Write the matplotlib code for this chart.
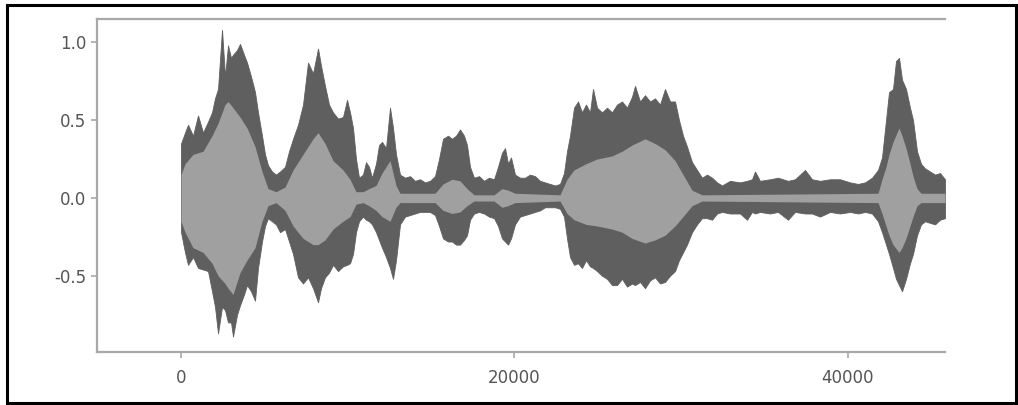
import matplotlib
matplotlib.use("Agg")
import matplotlib.pyplot as plt
from matplotlib.patches import Rectangle

# envelope of the waveform (sample index -> amplitude)
sample_outer = [
    0, 240, 420, 720, 1020, 1320, 1620, 1860, 2040, 2220,
    2460, 2640, 2820, 3000, 3120, 3360, 3540, 3780, 3960, 4200,
    4440, 4620, 4860, 5040, 5220, 5460, 5700, 5940, 6240, 6480,
    6720, 7020, 7320, 7620, 7920, 8220, 8400, 8640, 8880, 9120,
    9420, 9720, 9960, 10140, 10320, 10500, 10680, 10920, 11100, 11280,
    11460, 11700, 11880, 12060, 12300, 12540, 12720, 12900, 13140, 13440,
    13740, 14040, 14340, 14640, 14940, 15240, 15480, 15720, 16020, 16260,
    16500, 16740, 16980, 17160, 17340, 17580, 17880, 18180, 18480, 18780,
    19020, 19260, 19440, 19620, 19800, 20040, 20340, 20640, 20940, 21240,
    21540, 21840, 22140, 22440, 22740, 22980, 23160, 23340, 23580, 23820,
    24060, 24300, 24540, 24720, 24960, 25260, 25560, 25860, 26160, 26460,
    26760, 27060, 27240, 27540, 27840, 28140, 28440, 28740, 29040, 29340,
    29640, 29880, 30120, 30360, 30660, 30960, 31260, 31560, 31860, 32160,
    32460, 32940, 33540, 33960, 34260, 34440, 34740, 35340, 35820, 36420,
    36840, 37440, 37860, 38340, 38940, 39540, 40140, 40620, 41040, 41460,
    41820, 42060, 42300, 42480, 42720, 42900, 43080, 43260, 43500, 43740,
    43920, 44160, 44400, 44640, 44940, 45240, 45540, 45840,
]
outer_top = [
    0.35, 0.42, 0.47, 0.40, 0.53, 0.42, 0.49, 0.55, 0.64, 0.70,
    1.08, 0.78, 0.98, 0.90, 0.92, 0.95, 0.99, 0.92, 0.87, 0.78,
    0.68, 0.55, 0.40, 0.28, 0.21, 0.17, 0.15, 0.17, 0.20, 0.30,
    0.38, 0.47, 0.60, 0.87, 0.80, 0.96, 0.85, 0.72, 0.60, 0.55,
    0.51, 0.52, 0.63, 0.55, 0.45, 0.25, 0.13, 0.15, 0.23, 0.20,
    0.13, 0.22, 0.34, 0.36, 0.32, 0.58, 0.45, 0.28, 0.15, 0.13,
    0.14, 0.11, 0.12, 0.10, 0.11, 0.14, 0.25, 0.38, 0.40, 0.38,
    0.40, 0.44, 0.40, 0.34, 0.20, 0.13, 0.14, 0.11, 0.13, 0.12,
    0.20, 0.29, 0.32, 0.22, 0.26, 0.15, 0.13, 0.13, 0.15, 0.14,
    0.11, 0.10, 0.09, 0.08, 0.09, 0.16, 0.30, 0.40, 0.58, 0.62,
    0.55, 0.60, 0.55, 0.70, 0.58, 0.55, 0.58, 0.55, 0.60, 0.62,
    0.58, 0.65, 0.72, 0.62, 0.66, 0.62, 0.64, 0.60, 0.70, 0.62,
    0.62, 0.50, 0.40, 0.33, 0.23, 0.18, 0.13, 0.15, 0.13, 0.10,
    0.08, 0.11, 0.10, 0.11, 0.12, 0.17, 0.11, 0.12, 0.13, 0.11,
    0.12, 0.18, 0.12, 0.11, 0.12, 0.12, 0.10, 0.09, 0.10, 0.13,
    0.18, 0.26, 0.50, 0.68, 0.70, 0.88, 0.90, 0.76, 0.70, 0.58,
    0.50, 0.30, 0.22, 0.19, 0.17, 0.15, 0.16, 0.12,
]
outer_bot = [
    -0.22, -0.35, -0.43, -0.38, -0.45, -0.46, -0.47, -0.60, -0.70, -0.87,
    -0.70, -0.72, -0.80, -0.80, -0.89, -0.75, -0.69, -0.62, -0.56, -0.60,
    -0.66, -0.45, -0.28, -0.18, -0.13, -0.15, -0.17, -0.22, -0.20, -0.28,
    -0.36, -0.51, -0.55, -0.51, -0.58, -0.67, -0.58, -0.51, -0.48, -0.43,
    -0.47, -0.44, -0.43, -0.42, -0.36, -0.22, -0.15, -0.12, -0.14, -0.15,
    -0.17, -0.22, -0.27, -0.32, -0.38, -0.45, -0.52, -0.40, -0.17, -0.12,
    -0.11, -0.10, -0.09, -0.09, -0.09, -0.11, -0.18, -0.26, -0.28, -0.28,
    -0.30, -0.30, -0.27, -0.24, -0.14, -0.10, -0.09, -0.10, -0.12, -0.13,
    -0.18, -0.26, -0.28, -0.30, -0.26, -0.17, -0.12, -0.11, -0.10, -0.09,
    -0.08, -0.06, -0.06, -0.06, -0.07, -0.12, -0.26, -0.38, -0.43, -0.42,
    -0.45, -0.40, -0.44, -0.45, -0.47, -0.50, -0.52, -0.56, -0.56, -0.52,
    -0.57, -0.55, -0.56, -0.54, -0.58, -0.53, -0.51, -0.55, -0.54, -0.50,
    -0.47, -0.40, -0.35, -0.30, -0.22, -0.17, -0.13, -0.13, -0.14, -0.10,
    -0.09, -0.10, -0.10, -0.14, -0.09, -0.10, -0.09, -0.10, -0.09, -0.14,
    -0.09, -0.10, -0.10, -0.12, -0.09, -0.10, -0.09, -0.10, -0.09, -0.10,
    -0.15, -0.22, -0.30, -0.36, -0.45, -0.52, -0.56, -0.60, -0.52, -0.42,
    -0.36, -0.24, -0.17, -0.15, -0.16, -0.17, -0.14, -0.13,
]

# lighter inner band (the dense part of the signal)
sample_inner = [
    0, 240, 720, 1320, 1860, 2220, 2640, 2820, 3120, 3540,
    3960, 4440, 4860, 5220, 5700, 6240, 6720, 7320, 7920, 8220,
    8640, 9120, 9720, 10140, 10500, 10920, 11280, 11700, 12060, 12540,
    12900, 13140, 15240, 15720, 16260, 16740, 17160, 17580, 18780, 19260,
    19620, 20040, 22740, 23160, 23580, 24300, 24960, 25860, 26460, 27060,
    27840, 28440, 29040, 29640, 30120, 30660, 31260, 41820, 42060, 42300,
    42480, 42720, 43080, 43260, 43500, 43740, 43920, 44160, 44400, 45840,
]
inner_top = [
    0.15, 0.22, 0.28, 0.30, 0.40, 0.48, 0.60, 0.62, 0.58, 0.52,
    0.45, 0.33, 0.17, 0.06, 0.04, 0.07, 0.18, 0.28, 0.38, 0.42,
    0.35, 0.24, 0.18, 0.12, 0.04, 0.04, 0.06, 0.08, 0.16, 0.24,
    0.08, 0.03, 0.03, 0.09, 0.12, 0.11, 0.06, 0.02, 0.02, 0.06,
    0.05, 0.03, 0.02, 0.12, 0.18, 0.22, 0.25, 0.27, 0.30, 0.34,
    0.38, 0.35, 0.31, 0.24, 0.15, 0.05, 0.02, 0.03, 0.12, 0.20,
    0.28, 0.36, 0.45, 0.40, 0.32, 0.22, 0.14, 0.06, 0.03, 0.03,
]
inner_bot = [
    -0.15, -0.22, -0.32, -0.35, -0.42, -0.50, -0.55, -0.58, -0.62, -0.48,
    -0.40, -0.32, -0.15, -0.05, -0.03, -0.08, -0.18, -0.26, -0.30, -0.30,
    -0.27, -0.20, -0.15, -0.12, -0.04, -0.03, -0.05, -0.08, -0.12, -0.15,
    -0.06, -0.03, -0.03, -0.08, -0.10, -0.09, -0.05, -0.02, -0.02, -0.06,
    -0.05, -0.03, -0.02, -0.10, -0.14, -0.17, -0.18, -0.20, -0.22, -0.26,
    -0.29, -0.27, -0.24, -0.18, -0.12, -0.05, -0.02, -0.03, -0.10, -0.18,
    -0.24, -0.30, -0.35, -0.32, -0.26, -0.18, -0.12, -0.05, -0.03, -0.03,
]

x_ticks = [0, 20000, 40000]
y_ticks = [-0.5, 0.0, 0.5, 1.0]

fig = plt.figure(figsize=(10.18, 4.05), dpi=100)
ax = fig.add_axes([0.0953, 0.1309, 0.833, 0.8222])

ax.fill_between(sample_outer, outer_bot, outer_top, color="#5f5f5f", lw=0.6, edgecolor="#5f5f5f")
ax.fill_between(sample_inner, inner_bot, inner_top, color="#a0a0a0", lw=0)

ax.set_xlim(-5040, 45840)
ax.set_ylim(-0.99, 1.15)
ax.set_xticks(x_ticks)
ax.set_yticks(y_ticks)
ax.set_xticklabels([str(t) for t in x_ticks])
ax.set_yticklabels(["%.1f" % t for t in y_ticks])

for side in ["left", "bottom", "top"]:
    ax.spines[side].set_color("#a8a8a8")
    ax.spines[side].set_linewidth(1.6)
ax.spines["right"].set_visible(False)
ax.tick_params(colors="#a8a8a8", labelcolor="#555555", labelsize=12, length=4, width=1.2)
ax.tick_params(axis="x", pad=8)

# black frame round the whole picture
fig.patches.append(Rectangle((0.007, 0.005), 0.991, 0.983, transform=fig.transFigure,
                             fill=False, edgecolor="black", linewidth=2.2))

fig.savefig("out.png", dpi=100)
